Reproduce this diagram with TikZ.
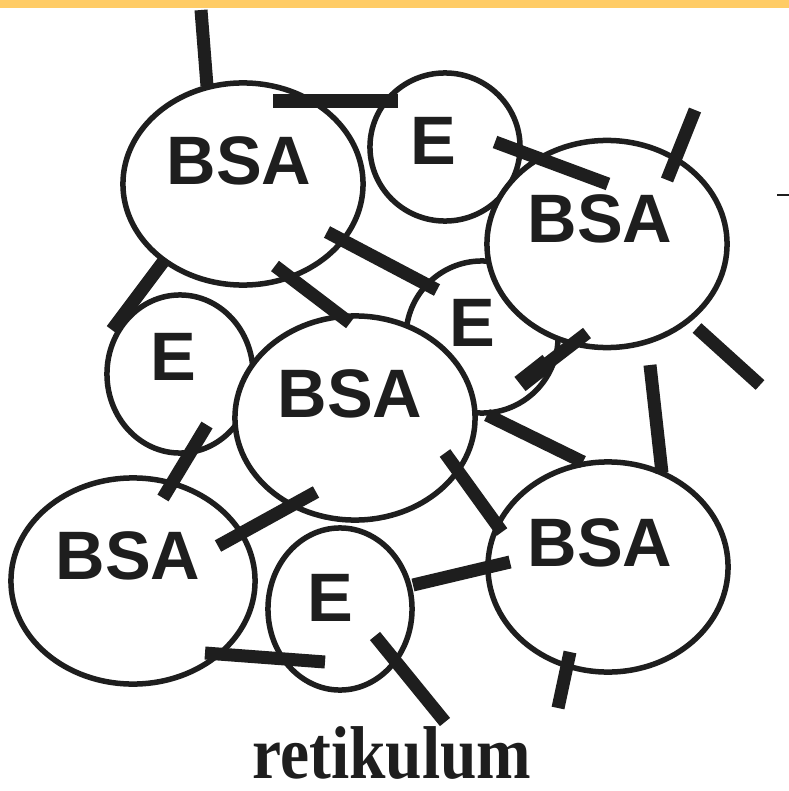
\documentclass[tikz,border=0pt]{standalone}
\usepackage{fontspec}
\setmainfont{Liberation Serif}
\newfontfamily\cellfont{Liberation Sans}
\usetikzlibrary{shapes.geometric}
\definecolor{topbar}{RGB}{255,204,102}
\definecolor{ink}{RGB}{30,30,30}
\tikzset{
  cell/.style={ellipse, draw=ink, fill=white, line width=0.055cm, inner sep=0pt},
  celltext/.style={font=\cellfont\bfseries\fontsize{19.5}{21}\selectfont, text=ink, inner sep=0pt},
  bar/.style={draw=ink, line width=0.13cm},
  thickbar/.style={draw=ink, line width=0.18cm},
  thin/.style={draw=ink, line width=0.02cm},
  caption/.style={font=\bfseries\fontsize{19}{21}\selectfont, text=ink, inner sep=0pt}
}
\begin{document}
\begin{tikzpicture}[x=0.01cm, y=-0.01cm]
\useasboundingbox (0,0) rectangle (789,791);
\fill[white] (0,0) rectangle (789,791);
\fill[topbar] (0,0) rectangle (789,8);
% cells (E mid first, it lies behind)
\node[cell, minimum width=1.52cm, minimum height=1.52cm] (emid) at (482,337) {};
\node[cell, minimum width=2.40cm, minimum height=2.02cm] (bsatl) at (243,184) {};
\node[cell, minimum width=1.50cm, minimum height=1.48cm] (etop) at (445,147) {};
\node[cell, minimum width=2.40cm, minimum height=2.07cm] (bsar) at (607,244) {};
\node[cell, minimum width=1.46cm, minimum height=1.58cm] (eleft) at (180,374) {};
\node[cell, minimum width=2.40cm, minimum height=2.04cm] (bsac) at (355,418) {};
\node[cell, minimum width=2.44cm, minimum height=2.06cm] (bsabl) at (133,581) {};
\node[cell, minimum width=1.44cm, minimum height=1.62cm] (ebot) at (340,609) {};
\node[cell, minimum width=2.40cm, minimum height=2.10cm] (bsabr) at (608,567) {};
% labels
\node[celltext] (tbsatl) at (239,161) {BSA};
\node[celltext] (tetop) at (433,141) {E};
\node[celltext] (tbsar) at (600,219) {BSA};
\node[celltext] (temid) at (472,323) {E};
\node[celltext] (teleft) at (173,357) {E};
\node[celltext] (tbsac) at (350,394) {BSA};
\node[celltext] (tbsabl) at (128,556) {BSA};
\node[celltext] (tebot) at (330,598) {E};
\node[celltext] (tbsabr) at (600,543) {BSA};
% bars
\draw[bar] (201,10) -- (207,86);
\draw[bar] (273,101) -- (398,101);
\draw[bar] (495,142) -- (608,184);
\draw[bar] (695,110) -- (667,180);
\draw[bar] (697,328) -- (760,385);
\draw[bar] (327,232) -- (437,290);
\draw[bar] (275,266) -- (350,323);
\draw[bar] (163,262) -- (112,330);
\draw[bar] (522,383) -- (587,333);
\draw[thickbar] (520,384) -- (548,362);
\draw[bar] (487,415) -- (583,462);
\draw[bar] (650,365) -- (662,473);
\draw[bar] (445,453) -- (502,532);
\draw[bar] (207,425) -- (163,498);
\draw[bar] (218,546) -- (316,492);
\draw[bar] (205,653) -- (325,662);
\draw[bar] (375,636) -- (445,722);
\draw[bar] (413,585) -- (510,562);
\draw[bar] (570,652) -- (558,708);
\draw[thin] (777,195) -- (789,195);
% caption
\node[caption] (cap) at (392,753) {\scalebox{0.98}[1.12]{retikulum}};
\end{tikzpicture}
\end{document}
